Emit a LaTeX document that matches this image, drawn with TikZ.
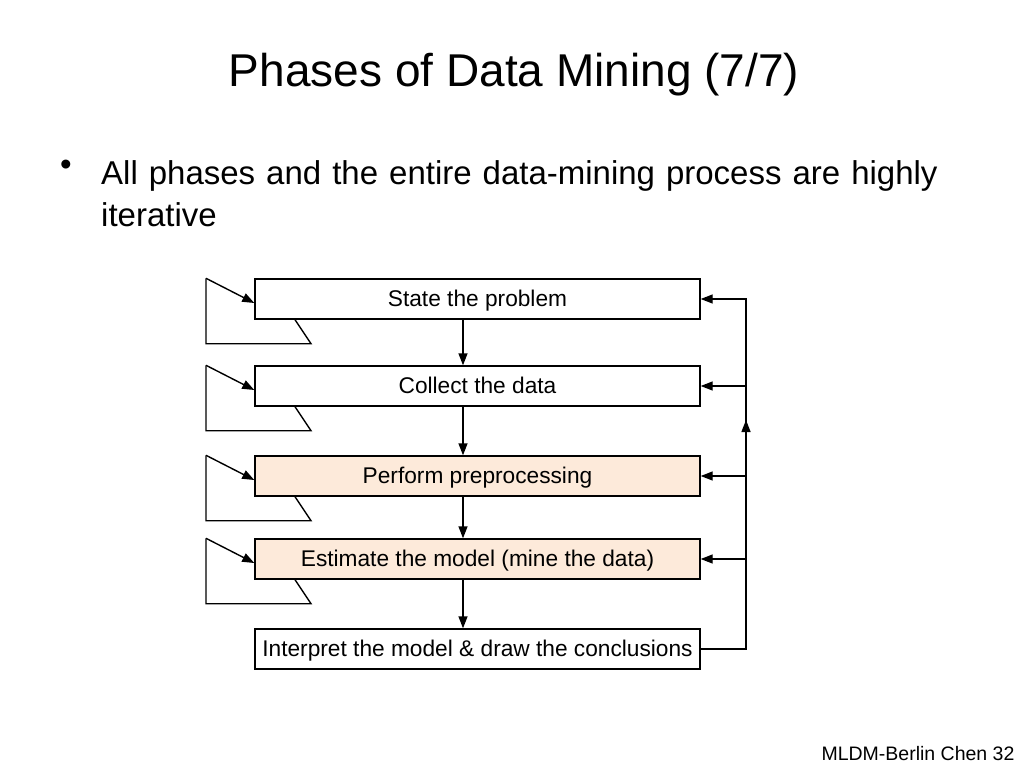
\documentclass[tikz,border=0pt]{standalone}
\usepackage{fontspec}
\setmainfont{Liberation Sans}
\usetikzlibrary{arrows.meta}
\definecolor{peach}{RGB}{253,234,218}
\tikzset{
  phase/.style={draw, line width=1.4pt, minimum width=445pt, minimum height=40pt, inner sep=0pt, text height=16pt, text depth=2pt, font=\fontsize{22.7}{26}\selectfont},
  flow/.style={line width=1.4pt, -{Triangle[length=12pt,width=9pt]}}
}
\begin{document}
\begin{tikzpicture}[x=1pt,y=-1pt]
  \useasboundingbox (0,0) rectangle (1024,768);

  \node[font=\fontsize{46}{52}\selectfont] (title) at (514,75) {Phases of Data Mining (7/7)};
  \node[anchor=north west, inner sep=0pt, font=\fontsize{33}{42}\selectfont] (dot) at (60,160) {•};
  \node[anchor=north west, inner sep=0pt, text width=880pt, align=left, font=\fontsize{33}{42}\selectfont] (bullet) at (101,160)
    {All phases and the entire data-mining process are highly iterative};

  \node[phase] (s1) at (477.5,299) {State the problem};
  \node[phase] (s2) at (477.5,386) {Collect the data};
  \node[phase, fill=peach] (s3) at (477.5,476) {Perform preprocessing};
  \node[phase, fill=peach] (s4) at (477.5,559) {Estimate the model (mine the data)};
  \node[phase] (s5) at (477.5,649) {Interpret the model \& draw the conclusions};

  % forward steps
  \foreach \a/\b in {s1/s2,s2/s3,s3/s4,s4/s5}
    \draw[flow] (\a.south -| 463,0) -- (\b.north -| 463,0);

  % self loops on the left
  \foreach \s in {s1,s2,s3,s4} {
    \draw[line width=1.4pt] (\s.south -| 295,0) -- ++(16,24) coordinate (c) -- (c -| 206,0) -- (206,0 |- \s.north);
    \draw[flow] (206,0 |- \s.north) -- ([yshift=-4pt]\s.west);
  }

  % feedback on the right
  \coordinate (fb) at (746,649);
  \draw[line width=1.4pt] (s5.east) -- (fb) -- (746,298);
  \draw[flow] (746,470) -- (746,420);
  \foreach \s in {s1,s2,s3,s4}
    \draw[flow] (746,0 |- \s.center) -- (\s.east);

  \node[anchor=south east, font=\fontsize{19.5}{23}\selectfont] (foot) at (1018,764) {MLDM-Berlin Chen 32};
\end{tikzpicture}
\end{document}
